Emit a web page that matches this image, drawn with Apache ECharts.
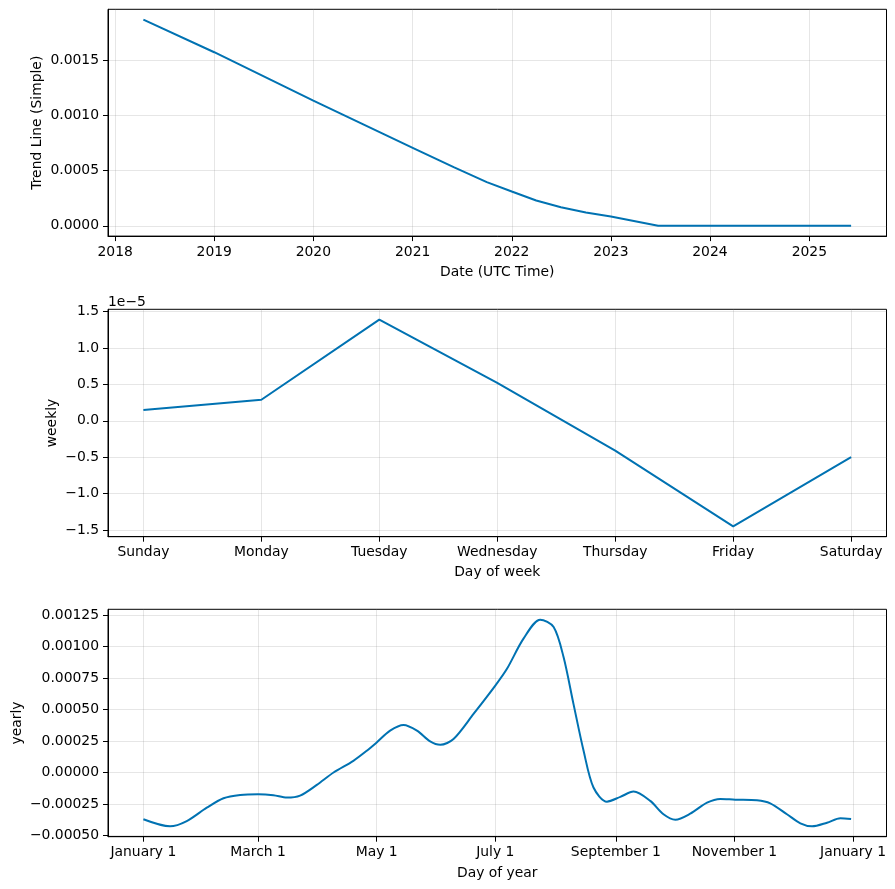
<!DOCTYPE html>
<html>
<head>
<meta charset="utf-8">
<script src="https://cdn.jsdelivr.net/npm/echarts@6/dist/echarts.min.js"></script>
<style>
html,body{margin:0;padding:0;background:#fff;}
#c{width:895px;height:889px;}
</style>
</head>
<body>
<div id="c"></div>
<script>
// ---- Data ----
const trendDates = ['2018-04-15','2019-01-01','2020-01-01','2021-01-01','2021-06-01','2021-10-01','2022-01-01','2022-04-01','2022-07-01','2022-10-01','2023-01-01','2023-06-24','2024-06-01','2025-06-04'];
const trendValues = [0.001865,0.00157,0.001133,0.000705,0.00053,0.000395,0.00031,0.000229,0.000168,0.00012,0.000084,0,0,0];
const trendTickYears = [2018,2019,2020,2021,2022,2023,2024,2025];
const trendYTicks = [0,0.0005,0.001,0.0015];

const weekdays = ['Sunday','Monday','Tuesday','Wednesday','Thursday','Friday','Saturday'];
const weeklyValues = [0.15e-5,0.29e-5,1.39e-5,0.52e-5,-0.41e-5,-1.45e-5,-0.50e-5];
const weeklyYTicks = [-1.5e-5,-1.0e-5,-0.5e-5,0,0.5e-5,1.0e-5,1.5e-5];

const yearlyDays = [0,13.7,22.3,32.6,41.2,49.8,59,66.9,73.8,80.6,89.2,97.8,108,114.9,120,126.9,133.8,140.7,147.5,152.7,159.5,169.8,181,187,195.5,204.1,211,216.1,221.2,226.4,231.5,238.4,245.3,252.1,260.7,267.5,273.6,281.3,289.9,296.7,304.4,315.6,322.4,331,337.9,343.9,351.6,358.5,364];
const yearlyValues = [-0.000371,-0.000427,-0.000385,-0.000279,-0.000204,-0.000178,-0.000172,-0.00018,-0.000199,-0.000183,-0.000098,0,0.000093,0.000173,0.000239,0.000332,0.000377,0.000332,0.000247,0.00022,0.000266,0.000465,0.00069,0.000823,0.001062,0.001213,0.001154,0.000916,0.000545,0.000173,-0.000119,-0.000231,-0.000193,-0.000151,-0.000225,-0.000331,-0.000374,-0.000326,-0.000239,-0.000209,-0.000215,-0.00022,-0.000244,-0.000331,-0.000403,-0.000427,-0.000398,-0.000363,-0.000369];
const yearlyTickDays = [0,59,120,181,243,304,365];
const yearlyTickLabels = ['January 1','March 1','May 1','July 1','September 1','November 1','January 1'];
const yearlyYTicks = [-0.0005,-0.00025,0,0.00025,0.0005,0.00075,0.001,0.00125];

// ---- Helpers ----
const FONT = 'DejaVu Sans';
const FS = 13.9;
const LINE = '#0072B2';
const minus = s => String(s).replace('-', '\u2212');
function ts(s){const p=s.split('-').map(Number);return new Date(p[0],p[1]-1,p[2]).getTime();}

function xAxisBase(gridIndex, name){
  return {
    gridIndex, name, nameLocation:'middle', nameGap:29, nameMoveOverlap:false,
    nameTextStyle:{fontFamily:FONT,fontSize:FS,color:'#000'},
    axisLine:{show:true,onZero:false,lineStyle:{color:'#000',width:1}},
    axisTick:{show:true,inside:false,length:5,lineStyle:{color:'#000',width:1}},
    axisLabel:{fontFamily:FONT,fontSize:FS,color:'#000',margin:9,showMinLabel:true,showMaxLabel:true,hideOverlap:false},
    splitLine:{show:true,lineStyle:{color:'rgba(128,128,128,0.2)',width:1}}
  };
}
function yAxisBase(gridIndex, name, gap){
  return {
    type:'value', gridIndex, name, nameLocation:'middle', nameGap:gap, nameRotate:90, nameMoveOverlap:false,
    nameTextStyle:{fontFamily:FONT,fontSize:FS,color:'#000'},
    axisLine:{show:true,onZero:false,lineStyle:{color:'#000',width:1}},
    axisTick:{show:true,inside:false,length:5,lineStyle:{color:'#000',width:1}},
    axisLabel:{fontFamily:FONT,fontSize:FS,color:'#000',margin:9,showMinLabel:true,showMaxLabel:true,hideOverlap:false},
    splitLine:{show:true,lineStyle:{color:'rgba(128,128,128,0.2)',width:1}}
  };
}

const trendTickTs = trendTickYears.map(y => new Date(y,0,1).getTime());
const trendData = trendDates.map((d,i)=>[ts(d), trendValues[i]]);
const t0 = ts(trendDates[0]), t1 = ts(trendDates[trendDates.length-1]);
const tspan = t1 - t0;
const trendYMax = Math.max(...trendValues), trendYMin = Math.min(...trendValues);
const wMax = Math.max(...weeklyValues), wMin = Math.min(...weeklyValues);
const yMaxV = Math.max(...yearlyValues), yMinV = Math.min(...yearlyValues);

const x0 = xAxisBase(0,'Date (UTC Time)');
Object.assign(x0,{type:'value',min:t0-0.05*tspan,max:t1+0.05*tspan});
x0.axisTick.customValues = trendTickTs;
x0.axisLabel.customValues = trendTickTs;
x0.axisLabel.formatter = v => String(new Date(v + 86400000).getFullYear());

const x1 = xAxisBase(1,'Day of week');
Object.assign(x1,{type:'value',min:-0.3,max:6.3,nameGap:29});
x1.axisTick.customValues = [0,1,2,3,4,5,6];
x1.axisLabel.customValues = [0,1,2,3,4,5,6];
x1.axisLabel.formatter = v => weekdays[Math.round(v)];

const x2 = xAxisBase(2,'Day of year');
const yspan = yearlyDays[yearlyDays.length-1]-yearlyDays[0];
Object.assign(x2,{type:'value',min:yearlyDays[0]-0.05*yspan,max:yearlyDays[yearlyDays.length-1]+0.05*yspan,nameGap:29.5});
x2.axisTick.customValues = yearlyTickDays;
x2.axisLabel.customValues = yearlyTickDays;
x2.axisLabel.formatter = v => yearlyTickLabels[yearlyTickDays.indexOf(Math.round(v))] || '';

const y0 = yAxisBase(0,'Trend Line (Simple)',64);
Object.assign(y0,{min:trendYMin-0.05*(trendYMax-trendYMin),max:trendYMax+0.05*(trendYMax-trendYMin)});
y0.axisTick.customValues = trendYTicks; y0.axisLabel.customValues = trendYTicks;
y0.axisLabel.formatter = v => minus(v.toFixed(4));

const y1 = yAxisBase(1,'weekly',49);
Object.assign(y1,{min:wMin-0.05*(wMax-wMin),max:wMax+0.05*(wMax-wMin)});
y1.axisTick.customValues = weeklyYTicks; y1.axisLabel.customValues = weeklyYTicks;
y1.axisLabel.formatter = v => minus((v/1e-5).toFixed(1));

const y2 = yAxisBase(2,'yearly',84);
Object.assign(y2,{min:yMinV-0.05*(yMaxV-yMinV),max:yMaxV+0.05*(yMaxV-yMinV)});
y2.axisTick.customValues = yearlyYTicks; y2.axisLabel.customValues = yearlyYTicks;
y2.axisLabel.formatter = v => minus(v.toFixed(5));

const gridBase = {left:108,right:8.5,show:true,borderColor:'#000',borderWidth:1,backgroundColor:'transparent',containLabel:false,outerBoundsMode:'none'};

const chart = echarts.init(document.getElementById('c'),null,{renderer:'canvas'});
chart.setOption({
  animation:false,
  backgroundColor:'#fff',
  textStyle:{fontFamily:FONT},
  grid:[
    Object.assign({top:9.3,height:226.8},gridBase),
    Object.assign({top:309.3,height:227.4},gridBase),
    Object.assign({top:609.3,height:227.4},gridBase)
  ],
  xAxis:[x0,x1,x2],
  yAxis:[y0,y1,y2],
  graphic:[{type:'text',left:108,top:295,style:{text:'1e\u22125',font:FS+'px "DejaVu Sans"',fill:'#000'}}],
  series:[
    {type:'line',xAxisIndex:0,yAxisIndex:0,data:trendData,showSymbol:false,lineStyle:{color:LINE,width:2},itemStyle:{color:LINE}},
    {type:'line',xAxisIndex:1,yAxisIndex:1,data:weeklyValues.map((v,i)=>[i,v]),showSymbol:false,lineStyle:{color:LINE,width:2},itemStyle:{color:LINE}},
    {type:'line',xAxisIndex:2,yAxisIndex:2,data:yearlyDays.map((d,i)=>[d,yearlyValues[i]]),smooth:0.3,showSymbol:false,lineStyle:{color:LINE,width:2},itemStyle:{color:LINE}}
  ]
});
</script>
</body>
</html>
